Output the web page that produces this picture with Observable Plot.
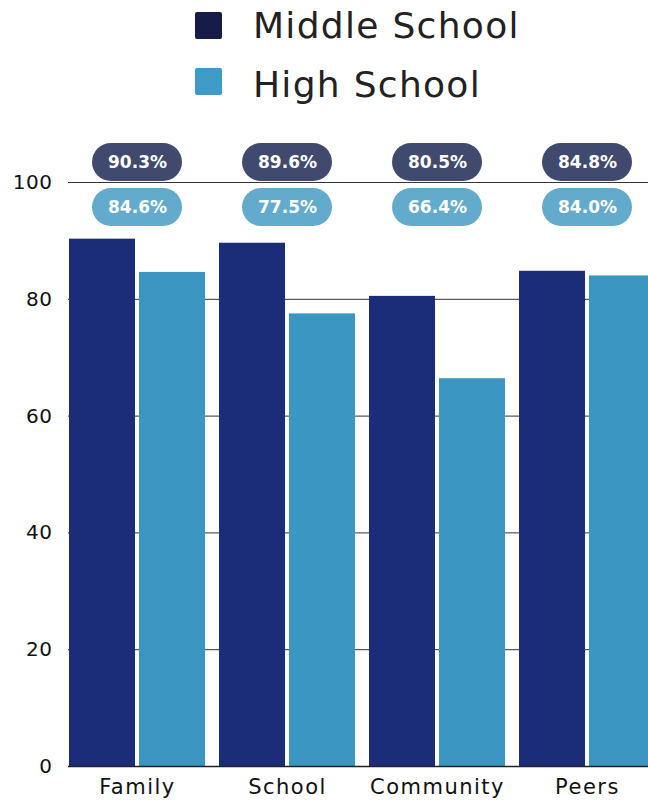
<!DOCTYPE html>
<html><head><meta charset="utf-8">
<script src="https://cdn.jsdelivr.net/npm/d3@7"></script>
<script src="https://cdn.jsdelivr.net/npm/@observablehq/plot@0.6"></script>
<style>
body{margin:0;background:#fff;width:648px;overflow:hidden;font-family:"DejaVu Sans",sans-serif}
#legend{position:relative;height:115px}
.sw{position:absolute;left:195px;width:27px;height:27px;border-radius:2px}
.lt{position:absolute;left:253px;font-size:36px;color:#222;line-height:1;white-space:nowrap;letter-spacing:1.3px}
</style></head><body>
<div id="legend"></div>
<div id="chart"></div>
<script>
const categories = ["Family", "School", "Community", "Peers"];
const series = ["Middle School", "High School"];
const middleSchool = [90.3, 89.6, 80.5, 84.8];
const highSchool = [84.6, 77.5, 66.4, 84.0];
const yTicks = [0, 20, 40, 60, 80, 100];
const barColors = ["#1b2c78", "#3b97c1"];
const pillColors = ["#404a6e", "#63abcc"];
const legendColors = ["#151c48", "#3d9bc6"];

// legend
const legend = document.getElementById("legend");
series.forEach((s, i) => {
  const sw = document.createElement("div");
  sw.className = "sw";
  sw.style.top = (12 + i * 56) + "px";
  sw.style.background = legendColors[i];
  legend.appendChild(sw);
  const t = document.createElement("div");
  t.className = "lt";
  t.style.top = (8 + i * 59) + "px";
  t.textContent = s;
  legend.appendChild(t);
});

const rows = categories.flatMap((c, i) => [
  {category: c, series: series[0], value: middleSchool[i]},
  {category: c, series: series[1], value: highSchool[i]}
]);
const ms = rows.filter(d => d.series === series[0]);
const hs = rows.filter(d => d.series === series[1]);
const fmt = d => d.value.toFixed(1) + "%";

const chart = Plot.plot({
  width: 648,
  height: 685,
  marginLeft: 68,
  marginRight: 0,
  marginTop: 67,
  marginBottom: 34,
  style: {fontFamily: "DejaVu Sans, sans-serif", fontSize: "20px", color: "#111", background: "#fff"},
  x: {domain: categories, range: [69, 655], paddingInner: 14 / 150, paddingOuter: 0, tickSize: 0, tickPadding: 13, label: null},
  y: {domain: [0, 100], range: [651, 67], ticks: yTicks, tickSize: 0, tickPadding: 16, label: null},
  marks: [
    Plot.ruleY(yTicks.filter(v => v > 0), {stroke: "#333", strokeWidth: 1}),
    Plot.barY(ms, {x: "category", y: "value", fill: barColors[0], insetRight: 70}),
    Plot.barY(hs, {x: "category", y: "value", fill: barColors[1], insetLeft: 70}),
    Plot.ruleY([0], {stroke: "#222", strokeWidth: 1.5}),
    Plot.barY(ms, {x: "category", y1: 100.17, y2: 106.68, fill: pillColors[0], insetLeft: 23, insetRight: 23, rx: 19}),
    Plot.barY(hs, {x: "category", y1: 92.47, y2: 98.97, fill: pillColors[1], insetLeft: 23, insetRight: 23, rx: 19}),
    Plot.text(ms, {x: "category", y: 103.42, text: fmt, fill: "white", fontSize: 17, fontWeight: "bold"}),
    Plot.text(hs, {x: "category", y: 95.72, text: fmt, fill: "white", fontSize: 17, fontWeight: "bold"})
  ]
});
d3.select(chart).selectAll("g[aria-label^='x-axis'] text")
  .attr("font-size", 21).style("font-size", "21px").style("letter-spacing", "1.5px");
d3.select(chart).selectAll("g[aria-label^='y-axis'] text")
  .attr("font-size", 20).style("font-size", "20px").style("letter-spacing", "0.5px");
document.getElementById("chart").appendChild(chart);
</script>
</body></html>
